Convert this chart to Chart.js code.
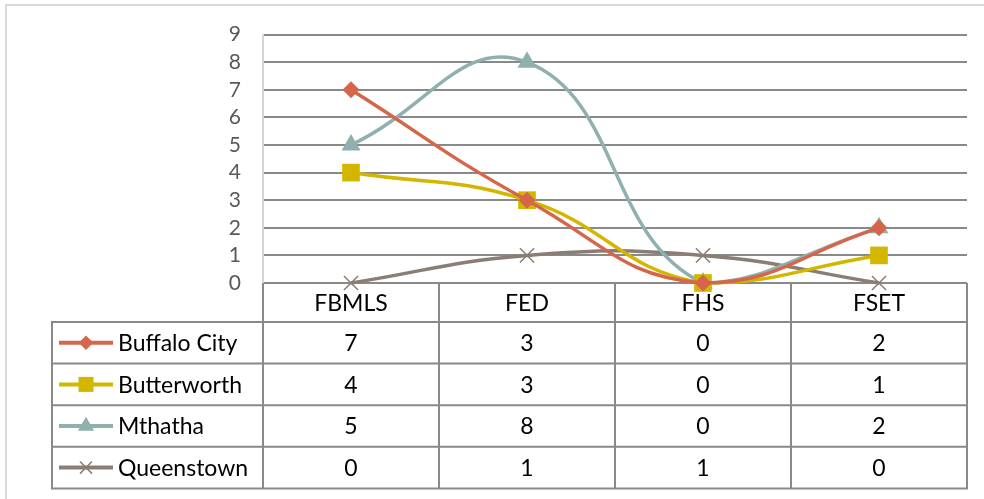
<!DOCTYPE html>
<html>
<head>
<meta charset="utf-8">
<script src="https://cdn.jsdelivr.net/npm/chart.js@4/dist/chart.umd.min.js"></script>
<style>
  html, body { margin: 0; padding: 0; background: #fff; }
  #wrap { width: 984px; height: 499px; }
</style>
</head>
<body>
<div id="wrap"><canvas id="c" width="984" height="499"></canvas></div>
<script>
// Faculties along the x axis
const categories = ['FBMLS', 'FED', 'FHS', 'FSET'];

// Counts per campus
const buffaloCity = [7, 3, 0, 2];
const butterworth = [4, 3, 0, 1];
const mthatha     = [5, 8, 0, 2];
const queenstown  = [0, 1, 1, 0];

const seriesNames = ['Buffalo City', 'Butterworth', 'Mthatha', 'Queenstown'];

const FONT = 'Lato, "Open Sans", sans-serif';
const GRID = '#898989';

const styles = [
  { color: '#D5664B', pointStyle: 'rectRot',  radius: 8.5 },
  { color: '#D2B600', pointStyle: 'rect',     radius: 12.5 },
  { color: '#8FB0AF', pointStyle: 'triangle', radius: 11 },
  { color: '#8C7D74', pointStyle: 'crossRot', radius: 10 }
];
const seriesData = [buffaloCity, butterworth, mthatha, queenstown];

// Small marker painter for the legend keys inside the data table
function drawMarker(ctx, style, x, y, r) {
  ctx.save();
  ctx.fillStyle = style.color;
  ctx.strokeStyle = style.color;
  ctx.beginPath();
  if (style.pointStyle === 'rectRot') {
    ctx.moveTo(x, y - r); ctx.lineTo(x + r, y); ctx.lineTo(x, y + r); ctx.lineTo(x - r, y);
    ctx.closePath(); ctx.fill();
  } else if (style.pointStyle === 'rect') {
    const s = r * Math.SQRT1_2;
    ctx.rect(x - s, y - s, 2 * s, 2 * s); ctx.fill();
  } else if (style.pointStyle === 'triangle') {
    for (let i = 0; i < 3; i++) {
      const a = -Math.PI / 2 + i * 2 * Math.PI / 3;
      const px = x + Math.cos(a) * r, py = y + Math.sin(a) * r;
      i ? ctx.lineTo(px, py) : ctx.moveTo(px, py);
    }
    ctx.closePath(); ctx.fill();
  } else if (style.pointStyle === 'crossRot') {
    const d = r * Math.SQRT1_2;
    ctx.lineWidth = 1.5;
    ctx.moveTo(x - d, y - d); ctx.lineTo(x + d, y + d);
    ctx.moveTo(x + d, y - d); ctx.lineTo(x - d, y + d);
    ctx.stroke();
  }
  ctx.restore();
}

// Outer frame of the chart object
const framePlugin = {
  id: 'frame',
  beforeDraw(chart) {
    const ctx = chart.ctx;
    ctx.save();
    ctx.strokeStyle = '#d9d9d9';
    ctx.lineWidth = 2;
    ctx.strokeRect(6, 5, 1000, 520);
    ctx.restore();
  }
};

// Data table under the plot: header with categories, one row per series
const tablePlugin = {
  id: 'dataTable',
  afterDraw(chart) {
    const { ctx, chartArea: a, scales: { x } } = chart;
    const colW = x.getPixelForValue(1) - x.getPixelForValue(0);
    const top = a.bottom;
    const headerH = 39;
    const rowH = 41.6;
    const legendLeft = 52;
    const headerBottom = top + headerH;
    const bottom = headerBottom + rowH * seriesNames.length;

    ctx.save();
    ctx.strokeStyle = GRID;
    ctx.lineWidth = 2;
    ctx.beginPath();
    // column separators
    for (let i = 0; i <= categories.length; i++) {
      const xx = x.getPixelForValue(0) - colW / 2 + i * colW;
      ctx.moveTo(xx, top); ctx.lineTo(xx, bottom);
    }
    ctx.moveTo(legendLeft, headerBottom); ctx.lineTo(legendLeft, bottom);
    // row separators
    for (let k = 0; k <= seriesNames.length; k++) {
      const yy = headerBottom + k * rowH;
      ctx.moveTo(legendLeft - 1, yy); ctx.lineTo(a.right + 1, yy);
    }
    ctx.stroke();

    ctx.fillStyle = '#000';
    ctx.font = '23px ' + FONT;
    ctx.textBaseline = 'middle';
    ctx.textAlign = 'center';
    categories.forEach((c, i) => {
      ctx.fillText(c, x.getPixelForValue(i), top + headerH / 2 + 1);
    });

    seriesNames.forEach((name, s) => {
      const cy = headerBottom + rowH * s + rowH / 2 + 1;
      const st = styles[s];
      // legend key
      ctx.save();
      ctx.strokeStyle = st.color;
      ctx.lineWidth = 4;
      ctx.beginPath();
      ctx.moveTo(59, cy - 1); ctx.lineTo(113, cy - 1);
      ctx.stroke();
      ctx.restore();
      drawMarker(ctx, st, 86, cy - 1, st.radius * 0.85);
      ctx.fillStyle = '#000';
      ctx.textAlign = 'left';
      ctx.fillText(name, 118, cy);
      ctx.textAlign = 'center';
      seriesData[s].forEach((v, i) => {
        ctx.fillText(String(v), x.getPixelForValue(i), cy);
      });
    });
    ctx.restore();
  }
};

new Chart(document.getElementById('c'), {
  type: 'line',
  data: {
    labels: categories,
    datasets: seriesNames.map((name, s) => ({
      label: name,
      data: seriesData[s],
      borderColor: styles[s].color,
      backgroundColor: styles[s].color,
      pointBorderColor: styles[s].color,
      pointBackgroundColor: styles[s].color,
      pointStyle: styles[s].pointStyle,
      pointRadius: styles[s].radius,
      pointBorderWidth: styles[s].pointStyle === 'crossRot' ? 1.5 : 0,
      borderWidth: 3.5,
      tension: 0.45,
      clip: false,
      fill: false
    }))
  },
  options: {
    responsive: false,
    animation: false,
    devicePixelRatio: 1,
    layout: { padding: { left: 0, right: 17, top: 33, bottom: 216 } },
    plugins: { legend: { display: false }, tooltip: { enabled: false } },
    scales: {
      x: {
        display: false,
        offset: true
      },
      y: {
        min: 0,
        max: 9,
        afterFit(scale) { scale.width = 263; },
        ticks: {
          stepSize: 1,
          autoSkip: false,
          padding: 22,
          color: '#595959',
          font: { family: FONT, size: 21 }
        },
        grid: { color: GRID, lineWidth: 2, drawTicks: false },
        border: { color: '#d6d6d6', width: 2 }
      }
    }
  },
  plugins: [framePlugin, tablePlugin]
});
</script>
</body>
</html>
